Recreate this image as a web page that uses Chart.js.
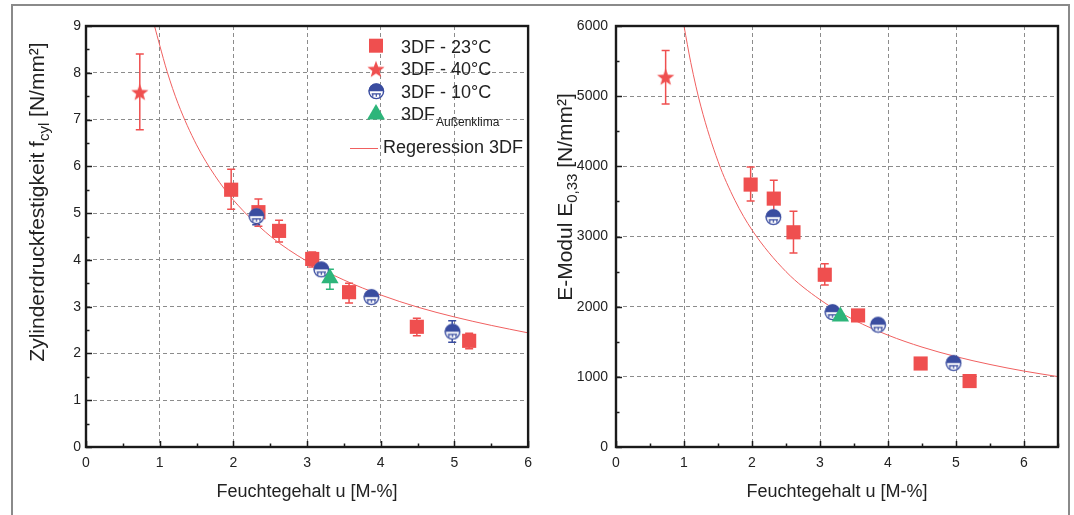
<!DOCTYPE html>
<html>
<head>
<meta charset="utf-8">
<script src="https://cdn.jsdelivr.net/npm/chart.js@4.4.1/dist/chart.umd.min.js"></script>
<style>
  body { margin: 0; background: #fff; width: 1074px; height: 515px; overflow: hidden; position: relative; }
  #frame { position: absolute; left: 11px; top: 4px; width: 1055px; height: 530px; border: 2px solid #8a8a8a; }
  canvas { position: absolute; }
  #fcylChart { left: 14px; top: 6px; }
  #emodChart { left: 544px; top: 6px; }
</style>
</head>
<body>
<div id="frame"></div>
<canvas id="fcylChart" width="526" height="509"></canvas>
<canvas id="emodChart" width="524" height="509"></canvas>
<script>
// --- left: compressive strength f_cyl [N/mm²] vs moisture u [M-%]
const u23 = [1.97, 2.34, 2.62, 3.07, 3.57, 4.49, 5.20];
const f23 = [5.50, 5.02, 4.62, 4.02, 3.31, 2.57, 2.27];
const f23Lo = [5.08, 4.72, 4.38, 3.85, 3.08, 2.38, 2.10];
const f23Hi = [5.94, 5.30, 4.85, 4.17, 3.50, 2.75, 2.43];
const u40 = [0.73];
const f40 = [7.58];
const f40Lo = [6.78];
const f40Hi = [8.40];
const u10 = [2.31, 3.19, 3.87, 4.97];
const f10 = [4.94, 3.80, 3.21, 2.47];
const f10Lo = [4.75, 3.68, 3.12, 2.24];
const f10Hi = [5.10, 3.92, 3.30, 2.70];
const uAk = [3.31];
const fAk = [3.61];
const fAkLo = [3.37];
const fAkHi = [3.80];
const uRegF = [0.93, 1, 1.1, 1.25, 1.5, 1.75, 2, 2.5, 3, 3.5, 4, 4.5, 5, 5.5, 6];
const fReg = [9.0, 8.59, 8.03, 7.34, 6.46, 5.80, 5.28, 4.51, 3.97, 3.57, 3.25, 2.99, 2.78, 2.60, 2.44];

// --- right: E-Modul E_0,33 [N/mm²]
const eu23 = [1.98, 2.32, 2.61, 3.07, 3.56, 4.48, 5.20];
const e23 = [3740, 3540, 3060, 2455, 1875, 1190, 940];
const e23Lo = [3505, 3280, 2765, 2310, 1840, 1160, 920];
const e23Hi = [3990, 3800, 3360, 2610, 1900, 1215, 960];
const eu40 = [0.73];
const e40 = [5270];
const e40Lo = [4890];
const e40Hi = [5650];
const eu10 = [2.31, 3.18, 3.85, 4.96];
const e10 = [3280, 1925, 1745, 1200];
const e10Lo = [3240, 1890, 1710, 1165];
const e10Hi = [3320, 1960, 1780, 1235];
const euAk = [3.30];
const eAk = [1860];
const eAkLo = [1825];
const eAkHi = [1895];
const uRegE = [1.0, 1.1, 1.25, 1.5, 1.75, 2, 2.5, 3, 3.5, 4, 4.5, 5, 5.5, 6, 6.5];
const eReg = [6000, 5478, 4847, 4072, 3514, 3093, 2499, 2100, 1811, 1594, 1424, 1288, 1176, 1082, 1003];

const legendLabels = ['3DF - 23°C', '3DF - 40°C', '3DF - 10°C', '3DF', 'Regeression 3DF'];

const RED = '#ef4f4f';
const BLUE = '#3a4da0';
const GREEN = '#2db57a';
const FONT = '"Liberation Sans", Arial, sans-serif';
const TXT = '#222';

const pts = (xs, ys) => xs.map((x, i) => ({ x: x, y: ys[i] }));

function starImg(r, color) {
    const c = document.createElement('canvas');
    c.width = c.height = 2 * r + 2;
    const g = c.getContext('2d');
    const cx = r + 1, cy = r + 1.5;
    g.beginPath();
    for (let k = 0; k < 10; k++) {
        const rr = k % 2 ? r * 0.42 : r;
        const a = -Math.PI / 2 + k * Math.PI / 5;
        g.lineTo(cx + rr * Math.cos(a), cy + rr * Math.sin(a));
    }
    g.closePath();
    g.fillStyle = color;
    g.fill();
    return c;
}

function halfCircleImg(r, color) {
    const c = document.createElement('canvas');
    c.width = c.height = 2 * r + 3;
    const g = c.getContext('2d');
    const cx = r + 1.5, cy = r + 1.5;
    g.fillStyle = '#fff';
    g.beginPath(); g.arc(cx, cy, r, 0, 2 * Math.PI); g.fill();
    g.fillStyle = color;
    g.beginPath(); g.arc(cx, cy, r, Math.PI, 2 * Math.PI); g.closePath(); g.fill();
    g.strokeStyle = color;
    g.lineWidth = 1.2;
    g.beginPath();
    g.moveTo(cx - r * 0.6, cy + 2.5); g.lineTo(cx + r * 0.6, cy + 2.5);
    [-3.5, 0, 3.5].forEach(d => { g.moveTo(cx + d, cy + 2.5); g.lineTo(cx + d, cy + 5.5); });
    g.stroke();
    g.lineWidth = 1.4;
    g.beginPath(); g.arc(cx, cy, r - 0.5, 0, 2 * Math.PI); g.stroke();
    return c;
}

const starMark = starImg(9, RED);
const circMark = halfCircleImg(7.8, BLUE);

function ds(label, xs, ys, lo, hi, color, style, order) {
    return {
        label: label,
        data: pts(xs, ys),
        pointStyle: style,
        pointRadius: style === 'triangle' ? 10 : (style === 'rect' ? 10 : 8),
        backgroundColor: color,
        borderColor: color,
        borderWidth: 0,
        showLine: false,
        order: order,
        errLo: lo,
        errHi: hi,
        errColor: color
    };
}

function regDs(xs, ys) {
    return {
        label: 'Regeression 3DF',
        data: pts(xs, ys),
        showLine: true,
        pointRadius: 0,
        borderColor: '#f06060',
        borderWidth: 1,
        cubicInterpolationMode: 'monotone',
        order: 5
    };
}

function vTitle(g, parts, bx, cy) {
    const mainF = '21px ' + FONT, subF = '15px ' + FONT;
    let total = 0;
    parts.forEach(p => { g.font = p.sub ? subF : mainF; p.w = g.measureText(p.t).width; total += p.w; });
    g.save();
    g.translate(bx, cy);
    g.rotate(-Math.PI / 2);
    g.fillStyle = TXT;
    g.textBaseline = 'alphabetic';
    g.textAlign = 'left';
    let x = -total / 2;
    parts.forEach(p => { g.font = p.sub ? subF : mainF; g.fillText(p.t, x, p.sub ? 5 : 0); x += p.w; });
    g.restore();
}

const errorBars = {
    id: 'errorBars',
    beforeDatasetsDraw(chart) {
        const g = chart.ctx, xs = chart.scales.x, ys = chart.scales.y;
        chart.data.datasets.forEach(d => {
            if (!d.errLo) return;
            g.save();
            g.strokeStyle = d.errColor;
            g.lineWidth = 1.5;
            d.data.forEach((p, j) => {
                const px = xs.getPixelForValue(p.x);
                const yl = ys.getPixelForValue(d.errLo[j]);
                const yh = ys.getPixelForValue(d.errHi[j]);
                g.beginPath();
                g.moveTo(px, yl); g.lineTo(px, yh);
                g.moveTo(px - 4, yl); g.lineTo(px + 4, yl);
                g.moveTo(px - 4, yh); g.lineTo(px + 4, yh);
                g.stroke();
            });
            g.restore();
        });
    }
};

const decor = {
    id: 'decor',
    afterDraw(chart, args, o) {
        const g = chart.ctx, a = chart.chartArea, xs = chart.scales.x, ys = chart.scales.y;
        g.save();
        g.strokeStyle = '#1a1a1a';
        g.lineWidth = 1.5;
        g.beginPath();
        for (let v = xs.min; v <= xs.max + 1e-9; v += o.minorX) {
            const px = Math.round(xs.getPixelForValue(v)) + 0.5;
            const major = Math.abs(v / o.majorX - Math.round(v / o.majorX)) < 1e-6;
            g.moveTo(px, a.bottom); g.lineTo(px, a.bottom - (major ? 6 : 3.5));
        }
        for (let v = ys.min; v <= ys.max + 1e-9; v += o.minorY) {
            const py = Math.round(ys.getPixelForValue(v)) + 0.5;
            const major = Math.abs(v / o.majorY - Math.round(v / o.majorY)) < 1e-6;
            g.moveTo(a.left, py); g.lineTo(a.left + (major ? 6 : 3.5), py);
        }
        g.stroke();
        g.lineWidth = 2.4;
        g.strokeRect(a.left, a.top, a.right - a.left, a.bottom - a.top);
        g.restore();

        vTitle(g, o.yTitle, o.yTitleX, o.yTitleY);

        if (o.legend) {
            const mx = 362, tx = 387;
            g.save();
            g.fillStyle = RED;
            g.fillRect(mx - 7, 39.7 - 7, 14, 14);
            g.drawImage(starMark, mx - starMark.width / 2, 63.3 - starMark.height / 2);
            g.drawImage(circMark, mx - circMark.width / 2, 85 - circMark.height / 2);
            g.fillStyle = GREEN;
            g.beginPath();
            g.moveTo(mx, 98); g.lineTo(mx + 9, 113.5); g.lineTo(mx - 9, 113.5); g.closePath();
            g.fill();
            g.strokeStyle = '#f06060';
            g.lineWidth = 1;
            g.beginPath(); g.moveTo(336, 142.5); g.lineTo(364, 142.5); g.stroke();
            g.fillStyle = TXT;
            g.textBaseline = 'alphabetic';
            g.textAlign = 'left';
            g.font = '18px ' + FONT;
            g.fillText(legendLabels[0], tx, 46.7);
            g.fillText(legendLabels[1], tx, 69);
            g.fillText(legendLabels[2], tx, 91.7);
            g.fillText(legendLabels[3], tx, 113.7);
            const w3 = g.measureText(legendLabels[3]).width;
            g.fillText(legendLabels[4], 369, 147.3);
            g.font = '12px ' + FONT;
            g.fillText('Außenklima', tx + w3 + 1, 119.5);
            g.restore();
        }
    }
};

function axes(xMax, yMax, yStep, yPad) {
    const gridOpts = { color: '#8c8c8c', lineWidth: 1, drawTicks: false };
    const tickFont = { family: FONT, size: 14 };
    return {
        x: {
            type: 'linear', min: 0, max: xMax,
            afterFit: s => { s.height = 68; },
            grid: gridOpts,
            border: { display: false, dash: [4, 3] },
            ticks: { stepSize: 1, includeBounds: false, color: TXT, font: tickFont, padding: 8, callback: v => String(v) },
            title: { display: true, text: 'Feuchtegehalt u [M-%]', color: TXT, font: { family: FONT, size: 18 }, padding: { top: 0, bottom: 12 } }
        },
        y: {
            type: 'linear', min: 0, max: yMax,
            afterFit: s => { s.width = 72; },
            grid: gridOpts,
            border: { display: false, dash: [4, 3] },
            ticks: { stepSize: yStep, color: TXT, font: tickFont, padding: yPad, callback: v => String(v) }
        }
    };
}

const common = (padRight) => ({
    responsive: false,
    animation: false,
    events: [],
    layout: { padding: { top: 20, right: padRight, left: 0, bottom: 0 } },
    plugins: { legend: { display: false }, tooltip: { enabled: false } }
});

const opt1 = common(9);
opt1.scales = axes(6, 9, 1, 5);
opt1.plugins.decor = {
    minorX: 0.5, majorX: 1, minorY: 0.5, majorY: 1, legend: true,
    yTitle: [{ t: 'Zylinderdruckfestigkeit f' }, { t: 'cyl', sub: true }, { t: ' [N/mm²]' }],
    yTitleX: 30, yTitleY: 196
};

new Chart(document.getElementById('fcylChart'), {
    type: 'scatter',
    data: {
        datasets: [
            ds(legendLabels[0], u23, f23, f23Lo, f23Hi, RED, 'rect', 4),
            ds(legendLabels[1], u40, f40, f40Lo, f40Hi, RED, starMark, 3),
            ds(legendLabels[2], u10, f10, f10Lo, f10Hi, BLUE, circMark, 2),
            ds('3DF Außenklima', uAk, fAk, fAkLo, fAkHi, GREEN, 'triangle', 1),
            regDs(uRegF, fReg)
        ]
    },
    options: opt1,
    plugins: [errorBars, decor]
});

const opt2 = common(8);
opt2.scales = axes(6.5, 6000, 1000, 8);
opt2.plugins.decor = {
    minorX: 0.5, majorX: 1, minorY: 500, majorY: 1000, legend: false,
    yTitle: [{ t: 'E-Modul E' }, { t: '0,33', sub: true }, { t: ' [N/mm²]' }],
    yTitleX: 28, yTitleY: 191
};

new Chart(document.getElementById('emodChart'), {
    type: 'scatter',
    data: {
        datasets: [
            ds(legendLabels[0], eu23, e23, e23Lo, e23Hi, RED, 'rect', 4),
            ds(legendLabels[1], eu40, e40, e40Lo, e40Hi, RED, starMark, 3),
            ds(legendLabels[2], eu10, e10, e10Lo, e10Hi, BLUE, circMark, 2),
            ds('3DF Außenklima', euAk, eAk, eAkLo, eAkHi, GREEN, 'triangle', 1),
            regDs(uRegE, eReg)
        ]
    },
    options: opt2,
    plugins: [errorBars, decor]
});
</script>
</body>
</html>
